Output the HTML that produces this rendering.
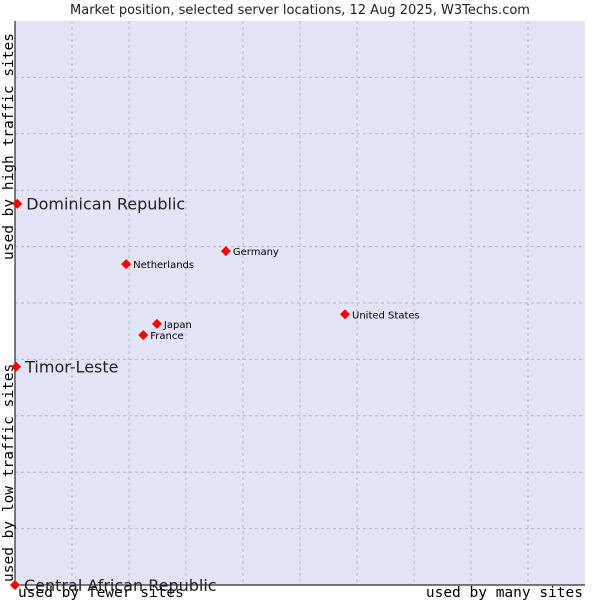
<!DOCTYPE html>
<html><head><meta charset="utf-8"><style>
html,body{margin:0;padding:0;background:#fff}
svg{display:block}
text{font-family:"DejaVu Sans","Liberation Sans",sans-serif}
.mono{font-family:"DejaVu Sans Mono","Liberation Mono",monospace}
</style></head><body>
<svg id="chart" width="600" height="600">
<text x="300" y="14" text-anchor="middle" font-size="13" fill="#222">Market position, selected server locations, 12 Aug 2025, W3Techs.com</text>
<rect x="15" y="21" width="570" height="564" fill="#e3e4f8"/>
<g id="grid"></g>
<line x1="15" y1="21" x2="15" y2="585" stroke="#000"/>
<line x1="15" y1="585" x2="585" y2="585" stroke="#000"/>
<text class="mono" x="0" y="0" font-size="14.5" transform="translate(13,260) rotate(-90)" fill="#000">used by high traffic sites</text>
<text class="mono" x="0" y="0" font-size="14.5" transform="translate(13,582) rotate(-90)" fill="#000">used by low traffic sites</text>
<text class="mono" x="18" y="597" font-size="14.5" fill="#000">used by fewer sites</text>
<text class="mono" x="583" y="597" font-size="14.5" text-anchor="end" fill="#000">used by many sites</text>
<g id="points"></g>
</svg>
<script>
const names=["Dominican Republic","Timor-Leste","Central African Republic","Netherlands","Germany","United States","Japan","France"];
const xVals=[0.04,0.02,0,1.95,3.70,5.79,2.49,2.25];
const yVals=[6.76,3.87,0,5.69,5.92,4.80,4.63,4.43];
const bigLabel=[true,true,true,false,false,false,false,false];
const NS="http://www.w3.org/2000/svg";
const L=15,R=585,T=21,B=585;
function sx(v){return L+v/10*(R-L);}
function sy(v){return B-v/10*(B-T);}
const grid=document.getElementById('grid');
for(let i=1;i<10;i++){
  const v=document.createElementNS(NS,'line');
  v.setAttribute('x1',sx(i));v.setAttribute('x2',sx(i));v.setAttribute('y1',T);v.setAttribute('y2',B);
  v.setAttribute('stroke','#b8b8b8');v.setAttribute('stroke-dasharray','3,3');
  
  
  grid.appendChild(v);
  const h=document.createElementNS(NS,'line');
  h.setAttribute('y1',sy(i));h.setAttribute('y2',sy(i));h.setAttribute('x1',L);h.setAttribute('x2',R);
  h.setAttribute('stroke','#b8b8b8');h.setAttribute('stroke-dasharray','3,3');
  
  
  grid.appendChild(h);
}
const pts=document.getElementById('points');
names.forEach((n,i)=>{
  const x=sx(xVals[i]),y=sy(yVals[i]);
  const d=document.createElementNS(NS,'path');
  d.setAttribute('d',`M${x} ${y-5}L${x+5} ${y}L${x} ${y+5}L${x-5} ${y}Z`);
  d.setAttribute('fill','#ff0000');
  
  
  pts.appendChild(d);
  const t=document.createElementNS(NS,'text');
  t.setAttribute('x',x+(bigLabel[i]?9:7));
  t.setAttribute('y',y+(bigLabel[i]?6:4));
  t.setAttribute('font-size',bigLabel[i]?'16':'10');
  t.setAttribute('fill',bigLabel[i]?'#222':'#000');
  t.textContent=n;
  
  
  pts.appendChild(t);
});
</script>
</body></html>
